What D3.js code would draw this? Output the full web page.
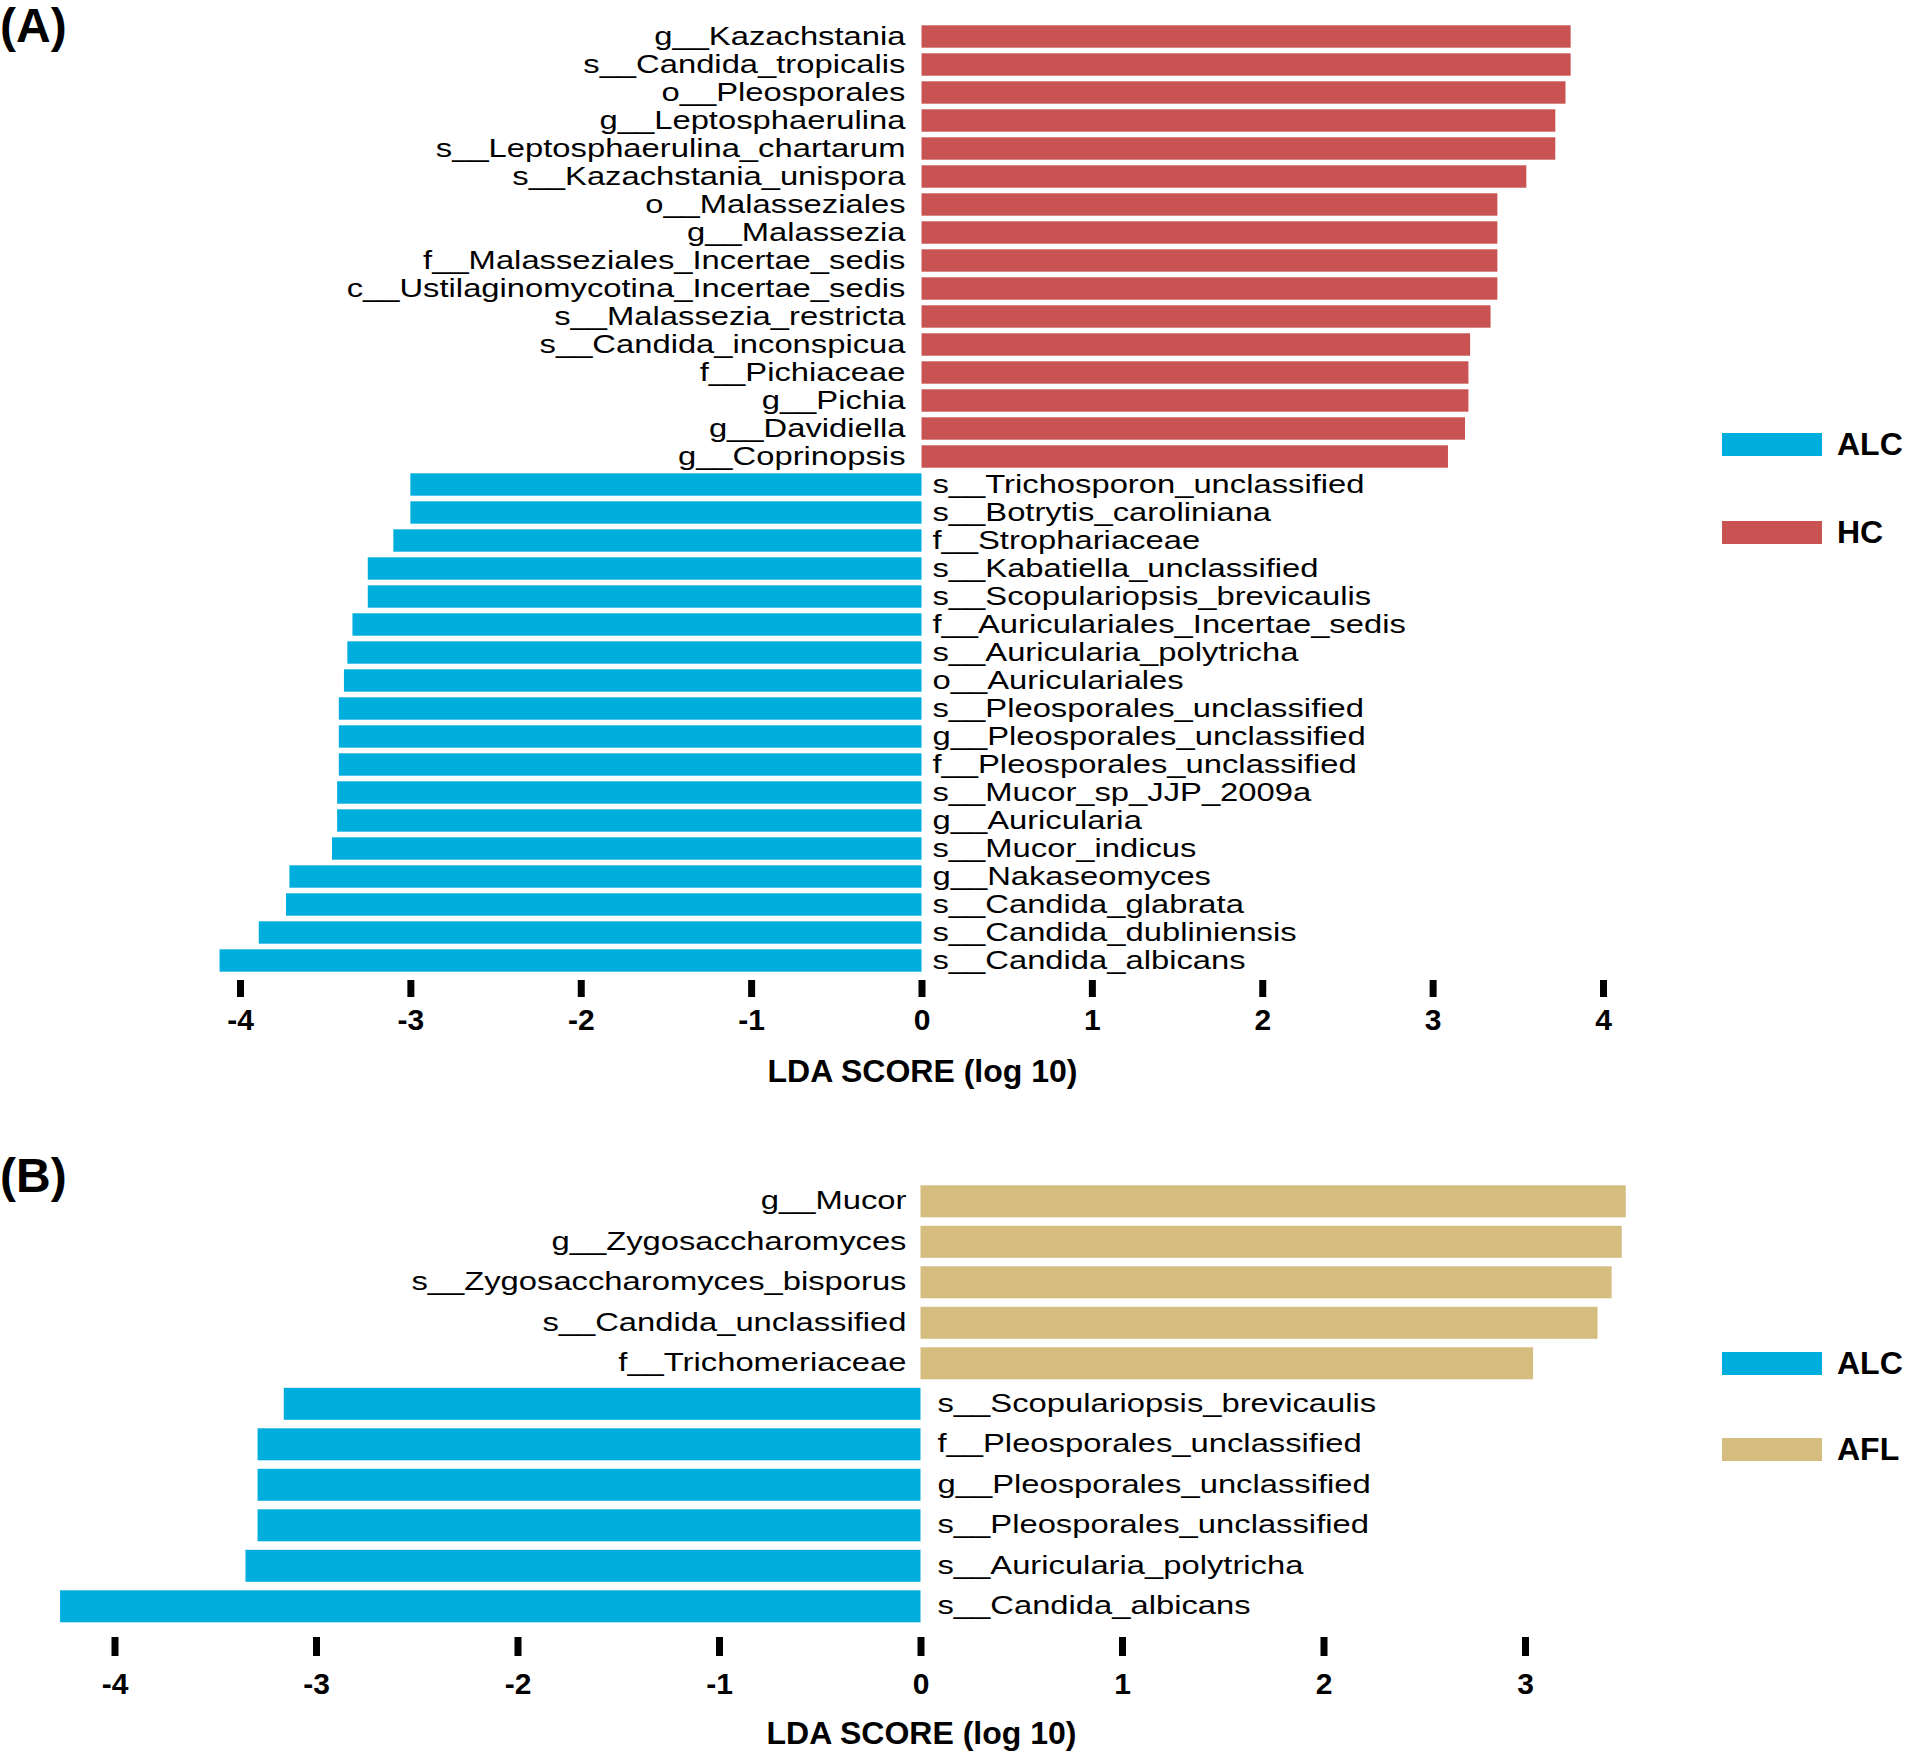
<!DOCTYPE html>
<html lang="en">
<head>
    <meta charset="UTF-8">
    <title>LEfSe LDA scores: ALC vs HC and ALC vs AFL</title>
    <style>
        body { margin: 0; background-color: #fff; }
        svg { display: block; }
        text { font-family: "Liberation Sans", Arial, sans-serif; fill: #000; }
        .panel-tag { font-size: 48px; font-weight: bold; }
        .axis-title { font-size: 32px; font-weight: bold; }
        .legend-label { font-size: 32px; font-weight: bold; }
        .taxon { font-size: 26px; }
        .tick text { font-size: 30px; font-weight: bold; }
    </style>
</head>
<body>
    <svg id="chart" width="1906" height="1755"></svg>

    <script src="https://d3js.org/d3.v7.min.js"></script>
    <script>
        // Panel A: HC-enriched taxa (positive LDA) then ALC-enriched taxa (negative LDA)
        var hcTaxaA = ['g__Kazachstania', 's__Candida_tropicalis', 'o__Pleosporales', 'g__Leptosphaerulina',
            's__Leptosphaerulina_chartarum', 's__Kazachstania_unispora', 'o__Malasseziales', 'g__Malassezia',
            'f__Malasseziales_Incertae_sedis', 'c__Ustilaginomycotina_Incertae_sedis', 's__Malassezia_restricta',
            's__Candida_inconspicua', 'f__Pichiaceae', 'g__Pichia', 'g__Davidiella', 'g__Coprinopsis'];
        var hcScoresA = [3.81, 3.81, 3.78, 3.72, 3.72, 3.55, 3.38, 3.38, 3.38, 3.38, 3.34, 3.22, 3.21, 3.21, 3.19, 3.09];

        var alcTaxaA = ['s__Trichosporon_unclassified', 's__Botrytis_caroliniana', 'f__Strophariaceae',
            's__Kabatiella_unclassified', 's__Scopulariopsis_brevicaulis', 'f__Auriculariales_Incertae_sedis',
            's__Auricularia_polytricha', 'o__Auriculariales', 's__Pleosporales_unclassified',
            'g__Pleosporales_unclassified', 'f__Pleosporales_unclassified', 's__Mucor_sp_JJP_2009a',
            'g__Auricularia', 's__Mucor_indicus', 'g__Nakaseomyces', 's__Candida_glabrata',
            's__Candida_dubliniensis', 's__Candida_albicans'];
        var alcScoresA = [-3.00, -3.00, -3.10, -3.25, -3.25, -3.34, -3.37, -3.39, -3.42, -3.42, -3.42, -3.43,
            -3.43, -3.46, -3.71, -3.73, -3.89, -4.12];

        // Panel B: AFL-enriched taxa then ALC-enriched taxa
        var aflTaxaB = ['g__Mucor', 'g__Zygosaccharomyces', 's__Zygosaccharomyces_bisporus',
            's__Candida_unclassified', 'f__Trichomeriaceae'];
        var aflScoresB = [3.50, 3.48, 3.43, 3.36, 3.04];

        var alcTaxaB = ['s__Scopulariopsis_brevicaulis', 'f__Pleosporales_unclassified',
            'g__Pleosporales_unclassified', 's__Pleosporales_unclassified', 's__Auricularia_polytricha',
            's__Candida_albicans'];
        var alcScoresB = [-3.16, -3.29, -3.29, -3.29, -3.35, -4.27];

        var ticksA = [-4, -3, -2, -1, 0, 1, 2, 3, 4];
        var ticksB = [-4, -3, -2, -1, 0, 1, 2, 3];

        var groupColors = { ALC: '#00AEDE', HC: '#C95353', AFL: '#D5BC7F' };

        var svg = d3.select('#chart');

        function buildRows(posTaxa, posScores, posGroup, negTaxa, negScores) {
            var rows = posTaxa.map((t, i) => ({ taxon: t, score: posScores[i], group: posGroup }));
            return rows.concat(negTaxa.map((t, i) => ({ taxon: t, score: negScores[i], group: 'ALC' })));
        }

        function drawPanel(cfg) {
            var g = svg.append('g');

            var x = d3.scaleLinear().domain(cfg.xDomain).range(cfg.xRange);
            var y = d3.scaleBand()
                .domain(cfg.rows.map(d => d.taxon))
                .range(cfg.yRange)
                .paddingInner(cfg.padding)
                .paddingOuter(0.1);

            // bars
            g.selectAll('rect.bar')
                .data(cfg.rows)
                .enter()
                .append('rect')
                .attr('class', 'bar')
                .attr('x', d => x(Math.min(0, d.score)))
                .attr('y', d => y(d.taxon))
                .attr('width', d => Math.abs(x(d.score) - x(0)))
                .attr('height', y.bandwidth())
                .attr('fill', d => groupColors[d.group]);

            // taxon labels on the opposite side of zero
            g.selectAll('text.taxon')
                .data(cfg.rows)
                .enter()
                .append('text')
                .attr('class', 'taxon')
                .attr('text-anchor', d => d.score > 0 ? 'end' : 'start')
                .attr('transform', d => {
                    var tx = d.score > 0 ? x(0) - cfg.leftGap : x(0) + cfg.rightGap;
                    var ty = y(d.taxon) + y.bandwidth() / 2 + cfg.baselineShift;
                    return `translate(${tx},${ty}) scale(1.26,1)`;
                })
                .text(d => d.taxon);

            // x axis: thick tick marks only, plain hyphen minus in labels
            var axis = d3.axisBottom(x)
                .tickValues(cfg.ticks)
                .tickFormat(d => String(d))
                .tickSize(cfg.tickLen)
                .tickPadding(cfg.tickPad);
            var ax = g.append('g')
                .attr('transform', `translate(0, ${cfg.axisY})`)
                .call(axis);
            ax.select('.domain').remove();
            ax.selectAll('.tick line').attr('stroke', '#000').attr('stroke-width', 7);
            ax.selectAll('.tick text').attr('fill', '#000').attr('font-family', null).attr('font-size', null);

            g.append('text')
                .attr('class', 'axis-title')
                .attr('x', x(0) + 1)
                .attr('y', cfg.titleY)
                .attr('text-anchor', 'middle')
                .text('LDA SCORE (log 10)');

            g.append('text')
                .attr('class', 'panel-tag')
                .attr('x', 0)
                .attr('y', cfg.tagY)
                .text(cfg.tag);

            // legend
            var leg = g.selectAll('g.legend-item')
                .data(cfg.legend)
                .enter()
                .append('g')
                .attr('class', 'legend-item')
                .attr('transform', (d, i) => `translate(1722, ${cfg.legendY[i]})`);
            leg.append('rect')
                .attr('width', 100)
                .attr('height', 23)
                .attr('fill', d => groupColors[d]);
            leg.append('text')
                .attr('class', 'legend-label')
                .attr('x', 115)
                .attr('y', 22)
                .text(d => d);
        }

        drawPanel({
            rows: buildRows(hcTaxaA, hcScoresA, 'HC', alcTaxaA, alcScoresA),
            xDomain: [-4, 4], xRange: [240, 1603],
            yRange: [22.5, 974.5], padding: 0.2,
            leftGap: 16, rightGap: 11, baselineShift: 8.5,
            ticks: ticksA, axisY: 980, tickLen: 17, tickPad: 12,
            titleY: 1082, tag: '(A)', tagY: 42,
            legend: ['ALC', 'HC'], legendY: [433, 521]
        });

        drawPanel({
            rows: buildRows(aflTaxaB, aflScoresB, 'AFL', alcTaxaB, alcScoresB),
            xDomain: [-4, 3], xRange: [114.5, 1525],
            yRange: [1181.25, 1626.35], padding: 0.21,
            leftGap: 14, rightGap: 17, baselineShift: 8,
            ticks: ticksB, axisY: 1637, tickLen: 19, tickPad: 17,
            titleY: 1744, tag: '(B)', tagY: 1192,
            legend: ['ALC', 'AFL'], legendY: [1352, 1438]
        });
    </script>
</body>
</html>
